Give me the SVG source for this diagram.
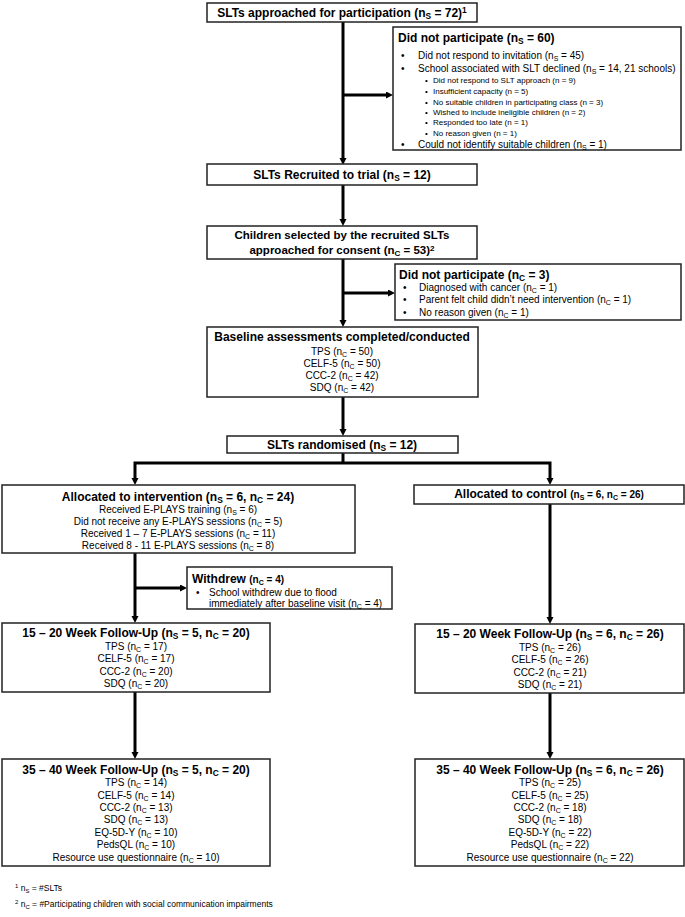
<svg xmlns="http://www.w3.org/2000/svg" width="685" height="917" viewBox="0 0 685 917">
<defs>
<marker id="ah" markerUnits="userSpaceOnUse" markerWidth="8" markerHeight="8" refX="1" refY="3.5" orient="auto-start-reverse"><path d="M0,0 L7,3.5 L0,7 z" fill="#000"/></marker>
<style>
text{font-family:"Liberation Sans",Arial,sans-serif;fill:#000}
.box{fill:#fff;stroke:#222;stroke-width:1.5}
.h{font-size:12px;font-weight:bold}
.h2{font-size:11.5px;font-weight:bold}
.b{font-size:10px}
.sb{font-size:8px}
.fn{font-size:8.5px}
.c{text-anchor:middle}
.s{font-size:70%}
.conn{fill:none;stroke:#000;stroke-width:3;stroke-linejoin:miter}
</style>
</defs>
<rect width="685" height="917" fill="#fff"/>

<g id="connectors">
<path class="conn" d="M343,22 V159" marker-end="url(#ah)"/>
<path class="conn" d="M343,95 H387" marker-end="url(#ah)"/>
<path class="conn" d="M343,185 V220" marker-end="url(#ah)"/>
<path class="conn" d="M343,259 V321" marker-end="url(#ah)"/>
<path class="conn" d="M343,293 H389" marker-end="url(#ah)"/>
<path class="conn" d="M343,397 V430" marker-end="url(#ah)"/>
<path class="conn" d="M343,453 V463"/>
<path class="conn" d="M135,479 V463 H550 V479" marker-start="url(#ah)" marker-end="url(#ah)"/>
<path class="conn" d="M135,553 V617" marker-end="url(#ah)"/>
<path class="conn" d="M135,588 H181" marker-end="url(#ah)"/>
<path class="conn" d="M550,504 V618" marker-end="url(#ah)"/>
<path class="conn" d="M135,692 V753" marker-end="url(#ah)"/>
<path class="conn" d="M550,693 V753" marker-end="url(#ah)"/>
</g>

<g id="approached">
<rect class="box" x="207" y="3" width="270" height="19"/>
<text class="h c" x="342" y="17">SLTs approached for participation (n<tspan class="s" dy="2">S</tspan><tspan dy="-2"> = 72)</tspan><tspan class="s" dy="-4">1</tspan></text>
</g>

<g id="dnp1">
<rect class="box" x="393" y="27" width="288" height="123"/>
<text class="h" x="398" y="42">Did not participate (n<tspan class="s" dy="2">S</tspan><tspan dy="-2"> = 60)</tspan></text>
<g class="b">
<text x="401" y="59">•</text><text class="b" x="418" y="59">Did not respond to invitation (n<tspan class="s" dy="2">S</tspan><tspan dy="-2"> = 45)</tspan></text>
<text x="401" y="72">•</text><text class="b" x="418" y="72">School associated with SLT declined (n<tspan class="s" dy="2">S</tspan><tspan dy="-2"> = 14, 21 schools)</tspan></text>
<text x="401" y="148">•</text><text class="b" x="418" y="148">Could not identify suitable children (n<tspan class="s" dy="2">S</tspan><tspan dy="-2"> = 1)</tspan></text>
</g>
<g class="sb">
<text class="sb" x="425" y="83">•</text><text class="sb" x="433" y="83">Did not respond to SLT approach (n = 9)</text>
<text class="sb" x="425" y="94">•</text><text class="sb" x="433" y="94">Insufficient capacity (n = 5)</text>
<text class="sb" x="425" y="105">•</text><text class="sb" x="433" y="105">No suitable children in participating class (n = 3)</text>
<text class="sb" x="425" y="115">•</text><text class="sb" x="433" y="115">Wished to include ineligible children (n = 2)</text>
<text class="sb" x="425" y="125">•</text><text class="sb" x="433" y="125">Responded too late (n = 1)</text>
<text class="sb" x="425" y="136">•</text><text class="sb" x="433" y="136">No reason given (n = 1)</text>
</g>
</g>

<g id="recruited">
<rect class="box" x="207" y="164" width="270" height="21"/>
<text class="h c" x="342" y="179">SLTs Recruited to trial (n<tspan class="s" dy="2">S</tspan><tspan dy="-2"> = 12)</tspan></text>
</g>

<g id="children">
<rect class="box" x="207" y="226" width="270" height="33"/>
<text class="h2 c" x="342" y="239">Children selected by the recruited SLTs</text>
<text class="h2 c" x="342" y="254">approached for consent (n<tspan class="s" dy="2">C</tspan><tspan dy="-2"> = 53)</tspan><tspan class="s" dy="-3">2</tspan></text>
</g>

<g id="dnp2">
<rect class="box" x="395" y="264" width="286" height="56"/>
<text class="h" x="399" y="279">Did not participate (n<tspan class="s" dy="2">C</tspan><tspan dy="-2"> = 3)</tspan></text>
<text class="b" x="403" y="291">•</text><text class="b" x="419" y="291">Diagnosed with cancer (n<tspan class="s" dy="2">C</tspan><tspan dy="-2"> = 1)</tspan></text>
<text class="b" x="403" y="303">•</text><text class="b" x="419" y="303">Parent felt child didn’t need intervention (n<tspan class="s" dy="2">C</tspan><tspan dy="-2"> = 1)</tspan></text>
<text class="b" x="403" y="316">•</text><text class="b" x="419" y="316">No reason given (n<tspan class="s" dy="2">C</tspan><tspan dy="-2"> = 1)</tspan></text>
</g>

<g id="baseline">
<rect class="box" x="207" y="327" width="271" height="70"/>
<text class="h c" x="342" y="341">Baseline assessments completed/conducted</text>
<text class="b c" x="342" y="355">TPS (n<tspan class="s" dy="2">C</tspan><tspan dy="-2"> = 50)</tspan></text>
<text class="b c" x="342" y="367">CELF-5 (n<tspan class="s" dy="2">C</tspan><tspan dy="-2"> = 50)</tspan></text>
<text class="b c" x="342" y="379">CCC-2 (n<tspan class="s" dy="2">C</tspan><tspan dy="-2"> = 42)</tspan></text>
<text class="b c" x="342" y="391">SDQ (n<tspan class="s" dy="2">C</tspan><tspan dy="-2"> = 42)</tspan></text>
</g>

<g id="randomised">
<rect class="box" x="227" y="436" width="231" height="17"/>
<text class="h c" x="342" y="449">SLTs randomised (n<tspan class="s" dy="2">S</tspan><tspan dy="-2"> = 12)</tspan></text>
</g>

<g id="intervention">
<rect class="box" x="2" y="485" width="353" height="68"/>
<text class="h c" x="178" y="501">Allocated to intervention (n<tspan class="s" dy="2">S</tspan><tspan dy="-2"> = 6, n</tspan><tspan class="s" dy="2">C</tspan><tspan dy="-2"> = 24)</tspan></text>
<text class="b c" x="178" y="513">Received E-PLAYS training (n<tspan class="s" dy="2">S</tspan><tspan dy="-2"> = 6)</tspan></text>
<text class="b c" x="178" y="525">Did not receive any E-PLAYS sessions (n<tspan class="s" dy="2">C</tspan><tspan dy="-2"> = 5)</tspan></text>
<text class="b c" x="178" y="537">Received 1 – 7 E-PLAYS sessions (n<tspan class="s" dy="2">C</tspan><tspan dy="-2"> = 11)</tspan></text>
<text class="b c" x="178" y="549">Received 8 - 11 E-PLAYS sessions (n<tspan class="s" dy="2">C</tspan><tspan dy="-2"> = 8)</tspan></text>
</g>

<g id="control">
<rect class="box" x="414" y="485" width="270" height="19"/>
<text class="h c" x="549" y="498">Allocated to control <tspan font-size="10px">(n<tspan class="s" dy="2">S</tspan><tspan dy="-2"> = 6, n</tspan><tspan class="s" dy="2">C</tspan><tspan dy="-2"> = 26)</tspan></tspan></text>
</g>

<g id="withdrew">
<rect class="box" x="187" y="567" width="205" height="42"/>
<text class="h" x="192" y="583">Withdrew <tspan font-size="10px">(n<tspan class="s" dy="2">C</tspan><tspan dy="-2"> = 4)</tspan></tspan></text>
<text class="b" x="196" y="596">•</text><text class="b" x="209" y="596">School withdrew due to flood</text>
<text class="b" x="209" y="607">immediately after baseline visit (n<tspan class="s" dy="2">C</tspan><tspan dy="-2"> = 4)</tspan></text>
</g>

<g id="int-fu1">
<rect class="box" x="2" y="623" width="268" height="69"/>
<text class="h c" x="136" y="637">15 – 20 Week Follow-Up (n<tspan class="s" dy="2">S</tspan><tspan dy="-2"> = 5, n</tspan><tspan class="s" dy="2">C</tspan><tspan dy="-2"> = 20)</tspan></text>
<text class="b c" x="136" y="650">TPS (n<tspan class="s" dy="2">C</tspan><tspan dy="-2"> = 17)</tspan></text>
<text class="b c" x="136" y="662">CELF-5 (n<tspan class="s" dy="2">C</tspan><tspan dy="-2"> = 17)</tspan></text>
<text class="b c" x="136" y="675">CCC-2 (n<tspan class="s" dy="2">C</tspan><tspan dy="-2"> = 20)</tspan></text>
<text class="b c" x="136" y="687">SDQ (n<tspan class="s" dy="2">C</tspan><tspan dy="-2"> = 20)</tspan></text>
</g>

<g id="ctl-fu1">
<rect class="box" x="415" y="624" width="269" height="69"/>
<text class="h c" x="550" y="638">15 – 20 Week Follow-Up (n<tspan class="s" dy="2">S</tspan><tspan dy="-2"> = 6, n</tspan><tspan class="s" dy="2">C</tspan><tspan dy="-2"> = 26)</tspan></text>
<text class="b c" x="550" y="651">TPS (n<tspan class="s" dy="2">C</tspan><tspan dy="-2"> = 26)</tspan></text>
<text class="b c" x="550" y="663">CELF-5 (n<tspan class="s" dy="2">C</tspan><tspan dy="-2"> = 26)</tspan></text>
<text class="b c" x="550" y="676">CCC-2 (n<tspan class="s" dy="2">C</tspan><tspan dy="-2"> = 21)</tspan></text>
<text class="b c" x="550" y="688">SDQ (n<tspan class="s" dy="2">C</tspan><tspan dy="-2"> = 21)</tspan></text>
</g>

<g id="int-fu2">
<rect class="box" x="2" y="759" width="268" height="107"/>
<text class="h c" x="136" y="774">35 – 40 Week Follow-Up (n<tspan class="s" dy="2">S</tspan><tspan dy="-2"> = 5, n</tspan><tspan class="s" dy="2">C</tspan><tspan dy="-2"> = 20)</tspan></text>
<text class="b c" x="136" y="786">TPS (n<tspan class="s" dy="2">C</tspan><tspan dy="-2"> = 14)</tspan></text>
<text class="b c" x="136" y="799">CELF-5 (n<tspan class="s" dy="2">C</tspan><tspan dy="-2"> = 14)</tspan></text>
<text class="b c" x="136" y="811">CCC-2 (n<tspan class="s" dy="2">C</tspan><tspan dy="-2"> = 13)</tspan></text>
<text class="b c" x="136" y="823">SDQ (n<tspan class="s" dy="2">C</tspan><tspan dy="-2"> = 13)</tspan></text>
<text class="b c" x="136" y="836">EQ-5D-Y (n<tspan class="s" dy="2">C</tspan><tspan dy="-2"> = 10)</tspan></text>
<text class="b c" x="136" y="848">PedsQL (n<tspan class="s" dy="2">C</tspan><tspan dy="-2"> = 10)</tspan></text>
<text class="b c" x="136" y="861">Resource use questionnaire (n<tspan class="s" dy="2">C</tspan><tspan dy="-2"> = 10)</tspan></text>
</g>

<g id="ctl-fu2">
<rect class="box" x="415" y="759" width="269" height="107"/>
<text class="h c" x="550" y="774">35 – 40 Week Follow-Up (n<tspan class="s" dy="2">S</tspan><tspan dy="-2"> = 6, n</tspan><tspan class="s" dy="2">C</tspan><tspan dy="-2"> = 26)</tspan></text>
<text class="b c" x="550" y="786">TPS (n<tspan class="s" dy="2">C</tspan><tspan dy="-2"> = 25)</tspan></text>
<text class="b c" x="550" y="799">CELF-5 (n<tspan class="s" dy="2">C</tspan><tspan dy="-2"> = 25)</tspan></text>
<text class="b c" x="550" y="811">CCC-2 (n<tspan class="s" dy="2">C</tspan><tspan dy="-2"> = 18)</tspan></text>
<text class="b c" x="550" y="823">SDQ (n<tspan class="s" dy="2">C</tspan><tspan dy="-2"> = 18)</tspan></text>
<text class="b c" x="550" y="836">EQ-5D-Y (n<tspan class="s" dy="2">C</tspan><tspan dy="-2"> = 22)</tspan></text>
<text class="b c" x="550" y="848">PedsQL (n<tspan class="s" dy="2">C</tspan><tspan dy="-2"> = 22)</tspan></text>
<text class="b c" x="550" y="861">Resource use questionnaire (n<tspan class="s" dy="2">C</tspan><tspan dy="-2"> = 22)</tspan></text>
</g>

<g id="footnotes">
<text class="fn" x="15" y="891"><tspan class="s" dy="-3">1</tspan><tspan dy="3"> n</tspan><tspan class="s" dy="2">S</tspan><tspan dy="-2"> = #SLTs</tspan></text>
<text class="fn" x="15" y="907"><tspan class="s" dy="-3">2</tspan><tspan dy="3"> n</tspan><tspan class="s" dy="2">C</tspan><tspan dy="-2"> = #Participating children with social communication impairments</tspan></text>
</g>
</svg>
